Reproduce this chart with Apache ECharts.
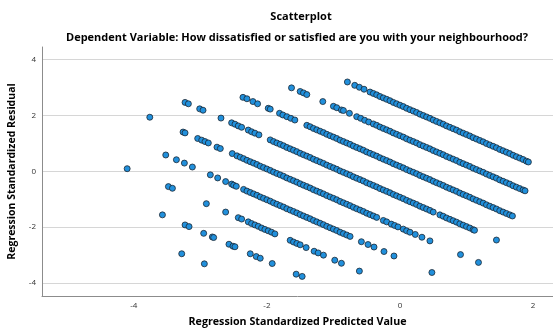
<!DOCTYPE html>
<html><head><meta charset="utf-8">
<script src="https://cdn.jsdelivr.net/npm/echarts@6/dist/echarts.min.js"></script>
<style>html,body{margin:0;padding:0;background:#fff}#c{width:553px;height:329px}</style>
</head><body><div id="c"></div>
<script>
const titleText = 'Scatterplot';
const subtitleText = 'Dependent Variable: How dissatisfied or satisfied are you with your neighbourhood?';
const xAxisName = 'Regression Standardized Predicted Value';
const yAxisName = 'Regression Standardized Residual';

// [standardized predicted, standardized residual] pairs, grouped by outcome level
const lineA = [[-0.79,3.19],[-0.68,3.07],[-0.61,3.00],[-0.54,2.93],
[-0.45,2.83],[-0.40,2.78],[-0.35,2.73],[-0.30,2.67],[-0.25,2.62],[-0.20,2.57],[-0.15,2.52],[-0.10,2.46],[-0.05,2.41],[0,2.36],[0.05,2.31],[0.10,2.25],[0.15,2.20],[0.20,2.15],[0.25,2.10],[0.30,2.04],[0.35,1.99],[0.40,1.94],[0.45,1.89],[0.50,1.83],[0.55,1.78],[0.60,1.73],[0.65,1.68],[0.70,1.62],[0.75,1.57],[0.80,1.52],[0.85,1.47],[0.90,1.41],[0.95,1.36],[1.00,1.31],[1.05,1.26],[1.10,1.20],[1.15,1.15],[1.20,1.10],[1.25,1.05],[1.30,0.99],[1.35,0.94],[1.40,0.89],[1.45,0.84],[1.50,0.78],[1.55,0.73],[1.60,0.68],[1.65,0.63],[1.70,0.57],[1.75,0.52],[1.80,0.47],[1.85,0.42],[1.90,0.36],[1.93,0.33]];

const lineB = [[-1.63,2.98],[-1.50,2.85],[-1.45,2.80],[-1.40,2.74],[-1.16,2.49],[-1.00,2.32],[-0.95,2.27],[-0.88,2.19],[-0.85,2.17],[-0.76,2.07],[-0.65,1.95],[-0.59,1.89],[-0.53,1.82],[-0.47,1.76],
[-0.40,1.69],[-0.35,1.64],[-0.30,1.58],[-0.25,1.53],[-0.20,1.48],[-0.15,1.43],[-0.10,1.37],[-0.05,1.32],[0,1.27],[0.05,1.22],[0.10,1.16],[0.15,1.11],[0.20,1.06],[0.25,1.01],[0.30,0.95],[0.35,0.90],[0.40,0.85],[0.45,0.80],[0.50,0.74],[0.55,0.69],[0.60,0.64],[0.65,0.59],[0.70,0.53],[0.75,0.48],[0.80,0.43],[0.85,0.38],[0.90,0.32],[0.95,0.27],[1.00,0.22],[1.05,0.17],[1.10,0.11],[1.15,0.06],[1.20,0.01],[1.25,-0.04],[1.30,-0.10],[1.35,-0.15],[1.40,-0.20],[1.45,-0.25],[1.50,-0.31],[1.55,-0.36],[1.60,-0.41],[1.65,-0.46],[1.70,-0.52],[1.75,-0.57],[1.80,-0.62],[1.85,-0.67],[1.88,-0.70]];

const lineC = [[-2.36,2.64],[-2.30,2.59],[-2.21,2.49],[-2.14,2.41],[-1.98,2.25],[-1.95,2.22],[-1.81,2.07],[-1.76,2.01],[-1.70,1.95],[-1.64,1.89],[-1.58,1.83],
[-1.40,1.64],[-1.35,1.59],[-1.30,1.53],[-1.25,1.48],[-1.20,1.43],[-1.15,1.38],[-1.10,1.32],[-1.05,1.27],[-1.00,1.22],[-0.95,1.17],[-0.90,1.11],[-0.85,1.06],[-0.80,1.01],[-0.75,0.96],[-0.70,0.90],[-0.65,0.85],[-0.60,0.80],[-0.55,0.75],[-0.50,0.69],[-0.45,0.64],[-0.40,0.59],[-0.35,0.54],[-0.30,0.48],[-0.25,0.43],[-0.20,0.38],[-0.15,0.33],[-0.10,0.27],[-0.05,0.22],[0,0.17],[0.05,0.12],[0.10,0.06],[0.15,0.01],[0.20,-0.04],[0.25,-0.09],[0.30,-0.15],[0.35,-0.20],[0.40,-0.25],[0.45,-0.30],[0.50,-0.36],[0.55,-0.41],[0.60,-0.46],[0.65,-0.51],[0.70,-0.57],[0.75,-0.62],[0.80,-0.67],[0.85,-0.72],[0.90,-0.78],[0.95,-0.83],[1.00,-0.88],[1.05,-0.93],[1.10,-0.99],[1.15,-1.04],[1.20,-1.09],[1.25,-1.14],[1.30,-1.20],[1.35,-1.25],[1.40,-1.30],[1.45,-1.35],[1.50,-1.41],[1.55,-1.46],[1.60,-1.51],[1.65,-1.56],[1.69,-1.60]];

const lineD = [[-3.23,2.46],[-3.18,2.41],[-3.01,2.23],[-2.96,2.18],[-2.69,1.90],[-2.53,1.73],[-2.48,1.68],[-2.43,1.62],[-2.38,1.57],[-2.28,1.47],[-2.23,1.41],[-2.18,1.36],[-2.12,1.30],
[-1.95,1.12],[-1.90,1.06],[-1.85,1.01],[-1.80,0.96],[-1.75,0.91],[-1.70,0.85],[-1.65,0.80],[-1.60,0.75],[-1.55,0.70],[-1.50,0.64],[-1.45,0.59],[-1.40,0.54],[-1.35,0.49],[-1.30,0.43],[-1.25,0.38],[-1.20,0.33],[-1.15,0.28],[-1.10,0.22],[-1.05,0.17],[-1.00,0.12],[-0.95,0.07],[-0.90,0.01],[-0.85,-0.04],[-0.80,-0.09],[-0.75,-0.14],[-0.70,-0.20],[-0.65,-0.25],[-0.60,-0.30],[-0.55,-0.35],[-0.50,-0.41],[-0.45,-0.46],[-0.40,-0.51],[-0.35,-0.56],[-0.30,-0.62],[-0.25,-0.67],[-0.20,-0.72],[-0.15,-0.77],[-0.10,-0.83],[-0.05,-0.88],[0,-0.93],[0.05,-0.98],[0.10,-1.04],[0.15,-1.09],[0.20,-1.14],[0.25,-1.19],[0.30,-1.25],[0.35,-1.30],[0.40,-1.35],[0.45,-1.40],[0.50,-1.46],
[0.60,-1.56],[0.65,-1.61],[0.70,-1.67],[0.75,-1.72],[0.80,-1.77],[0.85,-1.82],[0.90,-1.88],[0.95,-1.93],[1.00,-1.98],[1.05,-2.03],[1.10,-2.09],[1.12,-2.11],[1.45,-2.46]];

const lineE = [[-3.76,1.93],[-3.26,1.40],[-3.23,1.37],[-3.04,1.17],[-2.98,1.11],[-2.93,1.06],[-2.88,1.01],[-2.75,0.86],[-2.70,0.81],[-2.52,0.63],
[-2.45,0.55],[-2.40,0.50],[-2.35,0.45],[-2.30,0.39],[-2.25,0.34],[-2.20,0.29],[-2.15,0.24],[-2.10,0.18],[-2.05,0.13],[-2.00,0.08],[-1.95,0.03],[-1.90,-0.03],[-1.85,-0.08],[-1.80,-0.13],[-1.75,-0.18],[-1.70,-0.24],[-1.65,-0.29],[-1.60,-0.34],[-1.55,-0.39],[-1.50,-0.45],[-1.45,-0.50],[-1.40,-0.55],[-1.35,-0.60],[-1.30,-0.66],[-1.25,-0.71],[-1.20,-0.76],[-1.15,-0.81],[-1.10,-0.87],[-1.05,-0.92],[-1.00,-0.97],[-0.95,-1.02],[-0.90,-1.08],[-0.85,-1.13],[-0.80,-1.18],[-0.75,-1.23],[-0.70,-1.29],[-0.65,-1.34],[-0.60,-1.39],[-0.55,-1.44],[-0.50,-1.50],[-0.45,-1.55],[-0.40,-1.60],[-0.35,-1.65],
[-0.25,-1.76],[-0.20,-1.81],[-0.13,-1.89],[-0.08,-1.94],[-0.03,-1.99],[0.05,-2.07],[0.10,-2.13],[0.15,-2.18],[0.23,-2.26],[0.33,-2.36],[0.45,-2.49],[0.91,-2.98],[1.18,-3.26]];

const lineF = [[-3.52,0.58],[-3.36,0.41],[-3.24,0.29],[-3.12,0.15],[-2.85,-0.13],[-2.74,-0.24],[-2.62,-0.37],[-2.53,-0.46],[-2.50,-0.50],[-2.46,-0.54],
[-2.35,-0.65],[-2.30,-0.71],[-2.25,-0.76],[-2.20,-0.81],[-2.15,-0.86],[-2.10,-0.92],[-2.05,-0.97],[-2.00,-1.02],[-1.95,-1.07],[-1.90,-1.13],[-1.85,-1.18],[-1.80,-1.23],[-1.75,-1.28],[-1.70,-1.34],[-1.65,-1.39],[-1.60,-1.44],[-1.55,-1.49],[-1.50,-1.55],[-1.45,-1.60],[-1.40,-1.65],[-1.35,-1.70],[-1.30,-1.76],[-1.25,-1.81],[-1.20,-1.86],[-1.15,-1.91],[-1.10,-1.97],[-1.05,-2.02],[-1.00,-2.07],[-0.95,-2.12],[-0.90,-2.18],[-0.85,-2.23],[-0.80,-2.28],[-0.75,-2.33],
[-0.58,-2.52],[-0.48,-2.62],[-0.39,-2.71],[-0.24,-2.87],[-0.09,-3.03],[0.48,-3.62]];

const lineG = [[-4.10,0.09],[-3.48,-0.55],[-3.42,-0.61],[-2.91,-1.16],[-2.62,-1.46],[-2.43,-1.66],[-2.38,-1.71],[-2.28,-1.81],[-2.23,-1.87],[-2.18,-1.92],[-2.13,-1.97],[-2.08,-2.03],[-2.03,-2.08],[-1.98,-2.13],[-1.93,-2.18],[-1.88,-2.24],[-1.65,-2.47],[-1.60,-2.53],[-1.55,-2.58],[-1.50,-2.63],[-1.41,-2.73],[-1.29,-2.86],[-1.23,-2.92],[-1.15,-3.00],[-0.98,-3.18],[-0.88,-3.29],[-0.61,-3.57]];

const lineH = [[-3.57,-1.56],[-3.23,-1.92],[-3.17,-1.98],[-2.95,-2.22],[-2.82,-2.35],[-2.80,-2.37],[-2.57,-2.61],[-2.51,-2.68],[-2.48,-2.70],[-2.25,-2.95],[-2.16,-3.05],[-2.10,-3.11],[-1.92,-3.30],[-1.56,-3.68],[-1.47,-3.76]];

const lineI = [[-3.28,-2.95],[-2.94,-3.31]];

const groups = [lineA, lineB, lineC, lineD, lineE, lineF, lineG, lineH, lineI];

const chart = echarts.init(document.getElementById('c'), null, {renderer: 'canvas'});
const FONT = '"Open Sans", "DejaVu Sans", sans-serif';
chart.setOption({
  animation: false,
  backgroundColor: '#ffffff',
  graphic: [
    {type: 'text', x: 301, y: 17, style: {text: titleText, font: 'bold 11px ' + FONT, fill: '#000', align: 'center', verticalAlign: 'middle', textAlign: 'center', textVerticalAlign: 'middle'}},
    {type: 'text', x: 297, y: 38, style: {text: subtitleText, font: 'bold 11px ' + FONT, fill: '#000', align: 'center', verticalAlign: 'middle', textAlign: 'center', textVerticalAlign: 'middle'}}
  ],
  grid: {left: 42, right: 0, top: 47, bottom: 33, containLabel: false, outerBoundsMode: 'none'},
  xAxis: {
    type: 'value', min: -5.38, max: 2.30,
    axisLine: {show: true, onZero: false, lineStyle: {color: '#8c8c8c', width: 1}},
    axisTick: {show: false},
    splitLine: {show: false},
    axisLabel: {fontSize: 8, color: '#333', margin: 6, showMinLabel: false, showMaxLabel: false, fontFamily: FONT},
    name: xAxisName, nameLocation: 'middle', nameGap: 20,
    nameTextStyle: {fontSize: 10.7, fontWeight: 'bold', color: '#000', fontFamily: FONT}
  },
  yAxis: {
    type: 'value', min: -4.46, max: 4.44,
    axisLine: {show: true, onZero: false, lineStyle: {color: '#8c8c8c', width: 1}},
    axisTick: {show: false},
    splitLine: {show: true, showMinLine: false, showMaxLine: false, lineStyle: {color: '#d6d6d6', width: 1}},
    axisLabel: {fontSize: 8, color: '#333', margin: 6, showMinLabel: false, showMaxLabel: false, fontFamily: FONT},
    name: yAxisName, nameLocation: 'middle', nameGap: 22,
    nameTextStyle: {fontSize: 10.5, fontWeight: 'bold', color: '#000', fontFamily: FONT}
  },
  series: groups.map(g => ({
    type: 'scatter',
    data: g,
    symbol: 'circle',
    symbolSize: 6,
    silent: true,
    itemStyle: {color: '#2190dc', borderColor: '#1b2733', borderWidth: 0.8, opacity: 1}
  }))
});
</script>
</body></html>
